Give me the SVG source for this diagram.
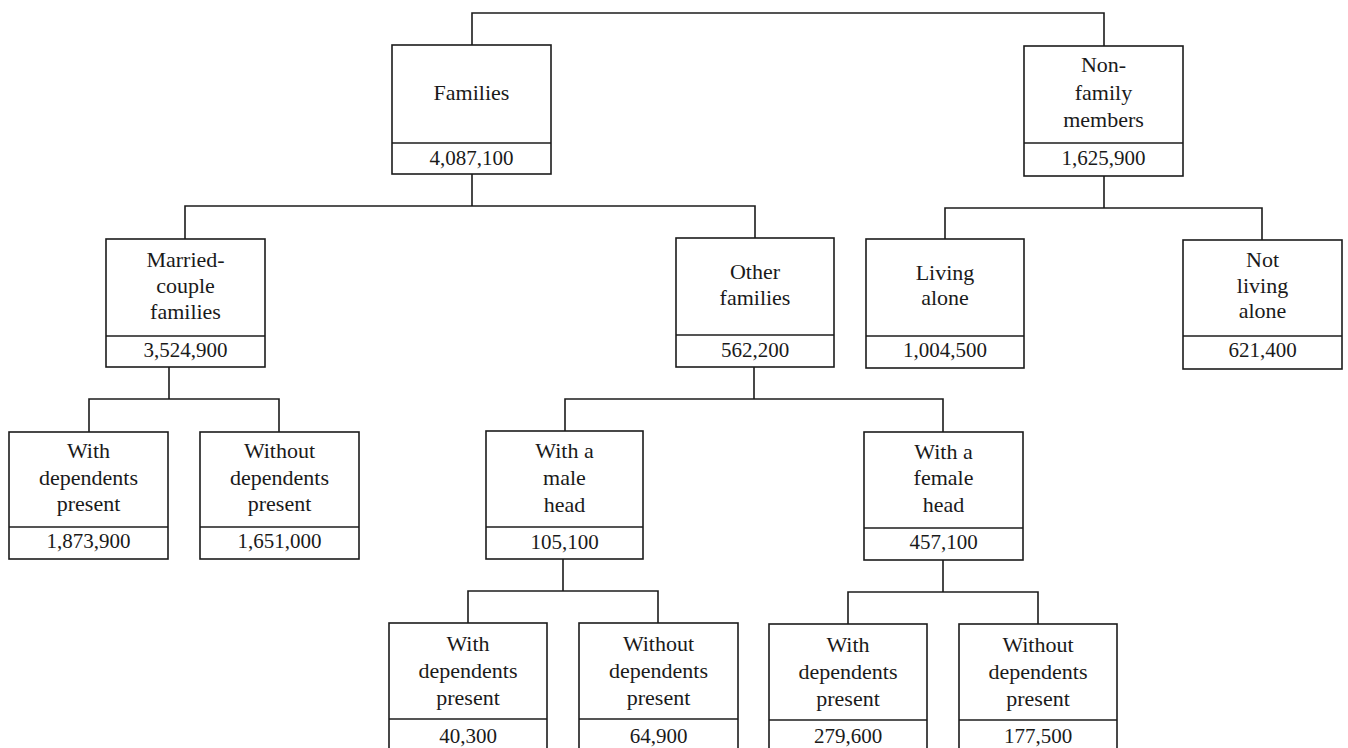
<svg xmlns="http://www.w3.org/2000/svg" width="1348" height="748" viewBox="0 0 1348 748">
<style>
rect.box{fill:none;stroke:#1c1c1c;stroke-width:1.6}
line.div{stroke:#1c1c1c;stroke-width:1.6}
#connectors path{fill:none;stroke:#1c1c1c;stroke-width:1.6}
text{fill:#1a1a1a;text-anchor:middle}
text.lab{font-size:22px}
text.num{font-size:21px}
</style>
<rect x="0" y="0" width="1348" height="748" fill="#ffffff"/>
<g id="connectors">
<path d="M472,45 V13 H1104 V46"/>
<path d="M472,174 V206 M185,239 V206 H755 V238"/>
<path d="M1104,176 V208 M945,239 V208 H1262 V240"/>
<path d="M169,367 V399 M89,432 V399 H279 V432"/>
<path d="M754,367 V399 M565,431 V399 H943 V432"/>
<path d="M563,559 V591 M468,623 V591 H658 V623"/>
<path d="M943,560 V592 M848,624 V592 H1038 V624"/>
</g>
<g id="nodes" font-family="Liberation Serif, DejaVu Serif, serif">
<g id="families">
<rect class="box" x="392" y="45" width="159" height="129"/>
<line class="div" x1="392" y1="143" x2="551" y2="143"/>
<text class="lab" x="471.5" y="100">Families</text>
<text class="num" x="471.5" y="165">4,087,100</text>
</g>
<g id="nonfamily">
<rect class="box" x="1024" y="46" width="159" height="130"/>
<line class="div" x1="1024" y1="143" x2="1183" y2="143"/>
<text class="lab" x="1103.5" y="72">Non-</text>
<text class="lab" x="1103.5" y="100">family</text>
<text class="lab" x="1103.5" y="127">members</text>
<text class="num" x="1103.5" y="165">1,625,900</text>
</g>
<g id="married">
<rect class="box" x="106" y="239" width="159" height="128"/>
<line class="div" x1="106" y1="336" x2="265" y2="336"/>
<text class="lab" x="185.5" y="267">Married-</text>
<text class="lab" x="185.5" y="293">couple</text>
<text class="lab" x="185.5" y="319">families</text>
<text class="num" x="185.5" y="357">3,524,900</text>
</g>
<g id="other">
<rect class="box" x="676" y="238" width="158" height="129"/>
<line class="div" x1="676" y1="335" x2="834" y2="335"/>
<text class="lab" x="755" y="279">Other</text>
<text class="lab" x="755" y="305">families</text>
<text class="num" x="755" y="357">562,200</text>
</g>
<g id="living-alone">
<rect class="box" x="866" y="239" width="158" height="129"/>
<line class="div" x1="866" y1="336" x2="1024" y2="336"/>
<text class="lab" x="945" y="280">Living</text>
<text class="lab" x="945" y="305">alone</text>
<text class="num" x="945" y="357">1,004,500</text>
</g>
<g id="not-living-alone">
<rect class="box" x="1183" y="240" width="159" height="129"/>
<line class="div" x1="1183" y1="336" x2="1342" y2="336"/>
<text class="lab" x="1262.5" y="267">Not</text>
<text class="lab" x="1262.5" y="293">living</text>
<text class="lab" x="1262.5" y="318">alone</text>
<text class="num" x="1262.5" y="357">621,400</text>
</g>
<g id="married-with">
<rect class="box" x="9" y="432" width="159" height="127"/>
<line class="div" x1="9" y1="527" x2="168" y2="527"/>
<text class="lab" x="88.5" y="458">With</text>
<text class="lab" x="88.5" y="485">dependents</text>
<text class="lab" x="88.5" y="511">present</text>
<text class="num" x="88.5" y="548">1,873,900</text>
</g>
<g id="married-without">
<rect class="box" x="200" y="432" width="159" height="127"/>
<line class="div" x1="200" y1="527" x2="359" y2="527"/>
<text class="lab" x="279.5" y="458">Without</text>
<text class="lab" x="279.5" y="485">dependents</text>
<text class="lab" x="279.5" y="511">present</text>
<text class="num" x="279.5" y="548">1,651,000</text>
</g>
<g id="male-head">
<rect class="box" x="486" y="431" width="157" height="128"/>
<line class="div" x1="486" y1="527" x2="643" y2="527"/>
<text class="lab" x="564.5" y="458">With a</text>
<text class="lab" x="564.5" y="485">male</text>
<text class="lab" x="564.5" y="512">head</text>
<text class="num" x="564.5" y="549">105,100</text>
</g>
<g id="female-head">
<rect class="box" x="864" y="432" width="159" height="128"/>
<line class="div" x1="864" y1="528" x2="1023" y2="528"/>
<text class="lab" x="943.5" y="459">With a</text>
<text class="lab" x="943.5" y="485">female</text>
<text class="lab" x="943.5" y="512">head</text>
<text class="num" x="943.5" y="549">457,100</text>
</g>
<g id="male-with">
<rect class="box" x="389" y="623" width="158" height="140"/>
<line class="div" x1="389" y1="719" x2="547" y2="719"/>
<text class="lab" x="468" y="651">With</text>
<text class="lab" x="468" y="678">dependents</text>
<text class="lab" x="468" y="705">present</text>
<text class="num" x="468" y="743">40,300</text>
</g>
<g id="male-without">
<rect class="box" x="579" y="623" width="159" height="140"/>
<line class="div" x1="579" y1="719" x2="738" y2="719"/>
<text class="lab" x="658.5" y="651">Without</text>
<text class="lab" x="658.5" y="678">dependents</text>
<text class="lab" x="658.5" y="705">present</text>
<text class="num" x="658.5" y="743">64,900</text>
</g>
<g id="female-with">
<rect class="box" x="769" y="624" width="158" height="140"/>
<line class="div" x1="769" y1="720" x2="927" y2="720"/>
<text class="lab" x="848" y="652">With</text>
<text class="lab" x="848" y="679">dependents</text>
<text class="lab" x="848" y="706">present</text>
<text class="num" x="848" y="743">279,600</text>
</g>
<g id="female-without">
<rect class="box" x="959" y="624" width="158" height="140"/>
<line class="div" x1="959" y1="720" x2="1117" y2="720"/>
<text class="lab" x="1038" y="652">Without</text>
<text class="lab" x="1038" y="679">dependents</text>
<text class="lab" x="1038" y="706">present</text>
<text class="num" x="1038" y="743">177,500</text>
</g>
</g>
</svg>
